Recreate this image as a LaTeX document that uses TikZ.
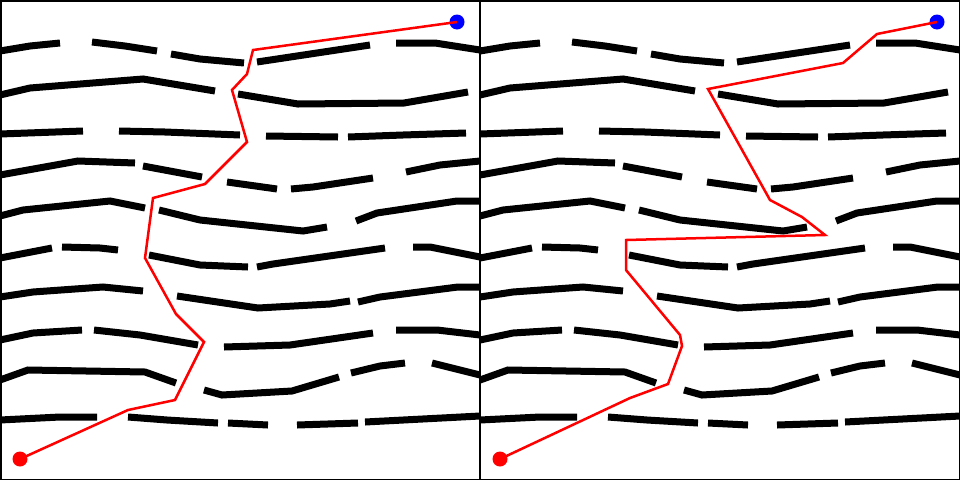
\documentclass[tikz,border=0pt]{standalone}
\begin{document}
\begin{tikzpicture}[x=1pt,y=-1pt,
  wall/.style={line width=7pt, line cap=butt, line join=miter},
  route/.style={red, line width=2.5pt, line join=miter},
  frame/.style={black, line width=1.5pt},
  dot/.style={circle, inner sep=0pt, minimum size=15pt, draw=none}]
\useasboundingbox (0,0) rectangle (960,480);
\newcommand\mazewalls{%
  % row 1
  \draw[wall] (0,51)--(30,46)--(60,43);
  \draw[wall] (92,42)--(125,46)--(157,51);
  \draw[wall] (171,54)--(200,59)--(244,63);
  \draw[wall] (257,62)--(277,59)--(370,45);
  \draw[wall] (396,43)--(435,43)--(480,50);
  % row 2
  \draw[wall] (0,95)--(30,88)--(143,79)--(215,91);
  \draw[wall] (238,94)--(298,104)--(404,103)--(468,92);
  % row 3
  \draw[wall] (0,134)--(83,131);
  \draw[wall] (119,131)--(165,132)--(240,135);
  \draw[wall] (266,136)--(338,137);
  \draw[wall] (348,137)--(403,135)--(466,133);
  % row 4
  \draw[wall] (0,175)--(78,161)--(135,163);
  \draw[wall] (143,166)--(202,177);
  \draw[wall] (227,182)--(277,189);
  \draw[wall] (291,189)--(313,187)--(373,178);
  \draw[wall] (406,172)--(440,165)--(480,161);
  % row 5
  \draw[wall] (0,216)--(23,210)--(110,201)--(145,208);
  \draw[wall] (159,210)--(200,220)--(303,231)--(327,227);
  \draw[wall] (356,221)--(377,213)--(457,201)--(480,201);
  % row 6
  \draw[wall] (0,258)--(52,248);
  \draw[wall] (62,247)--(100,248)--(118,250);
  \draw[wall] (149,255)--(200,265)--(248,267);
  \draw[wall] (257,267)--(273,264)--(385,248);
  \draw[wall] (413,247)--(430,247)--(480,257);
  % row 7
  \draw[wall] (0,297)--(33,292)--(103,287)--(143,291);
  \draw[wall] (177,296)--(258,308)--(330,304)--(350,301);
  \draw[wall] (358,302)--(380,297)--(458,287)--(480,287);
  % row 8
  \draw[wall] (0,340)--(33,333)--(82,330);
  \draw[wall] (94,330)--(140,335)--(198,345);
  \draw[wall] (224,347)--(290,345)--(373,333);
  \draw[wall] (396,330)--(437,330)--(480,335);
  % row 9
  \draw[wall] (0,380)--(28,370)--(145,372)--(176,383);
  \draw[wall] (204,390)--(222,395)--(292,391)--(339,377);
  \draw[wall] (351,373)--(380,366)--(405,363);
  \draw[wall] (432,363)--(480,375);
  % row 10
  \draw[wall] (0,420)--(60,417)--(97,417);
  \draw[wall] (128,417)--(167,420)--(218,423);
  \draw[wall] (228,423)--(268,425);
  \draw[wall] (297,425)--(358,423);
  \draw[wall] (365,422)--(480,416);
}
\begin{scope}\mazewalls\end{scope}
\begin{scope}[shift={(480,0)}]\mazewalls\end{scope}
% frames
\draw[frame] (0.75,0.75) rectangle (959.25,479.25);
\draw[frame] (480,0) -- (480,480);
% left panel
\node[dot, fill=red] (start1) at (20,459) {};
\node[dot, fill=blue] (goal1) at (457,22) {};
\draw[route] (start1.center) -- (128,410) -- (175,400) -- (204,342) -- (176,314) -- (145,258) -- (153,198) -- (205,184) -- (247,142) -- (232,90) -- (247,74) -- (253,50) -- (goal1.center);
% right panel
\node[dot, fill=red] (start2) at (500,459) {};
\node[dot, fill=blue] (goal2) at (937,22) {};
\draw[route] (start2.center) -- (630,398) -- (668,384) -- (682,346) -- (680,335) -- (626,270) -- (626,240) -- (825,235) -- (802,217) -- (770,200) -- (708,89) -- (843,63) -- (877,34) -- (goal2.center);
\end{tikzpicture}
\end{document}
